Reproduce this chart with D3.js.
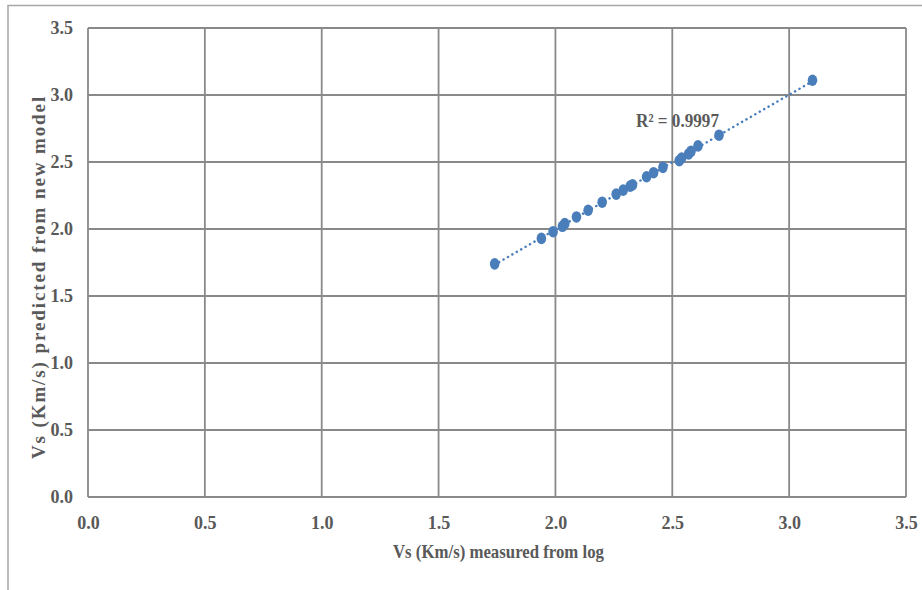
<!DOCTYPE html>
<html>
  <head>
    <meta charset="utf-8">
    <script src="https://d3js.org/d3.v7.min.js"></script>
    <style>
      body { margin: 0; background: #fff; }
      .tick text { font-family: "Liberation Serif", serif; font-weight: bold; font-size: 18px; fill: #595959; }
      .axis-title { font-family: "Liberation Serif", serif; font-weight: bold; font-size: 19px; fill: #595959; }
    </style>
  </head>
  <body>
    <div id="chart"></div>
    <script>
      // measured Vs (x) vs predicted Vs (y), km/s
      var measured  = [1.74, 1.94, 1.99, 2.03, 2.04, 2.09, 2.14, 2.20, 2.26, 2.29, 2.32, 2.33, 2.39, 2.42, 2.46, 2.53, 2.54, 2.57, 2.58, 2.61, 2.70, 3.10];
      var predicted = [1.74, 1.93, 1.98, 2.02, 2.04, 2.09, 2.14, 2.20, 2.26, 2.29, 2.32, 2.33, 2.39, 2.42, 2.46, 2.51, 2.53, 2.56, 2.58, 2.62, 2.70, 3.11];
      var ticks = [0, 0.5, 1.0, 1.5, 2.0, 2.5, 3.0, 3.5];
      var r2Label = "R\u00b2 = 0.9997";

      var width = 922, height = 590;
      var plotL = 88, plotR = 906, plotT = 28, plotB = 497;

      var svg = d3.select("#chart").append("svg")
          .attr("width", width).attr("height", height);

      // outer chart border
      svg.append("path")
         .attr("d", "M8,590 V5.5 H922")
         .attr("fill", "none").attr("stroke", "#a6a6a6").attr("stroke-width", 1.5);

      var x = d3.scaleLinear().domain([0, 3.5]).range([plotL, plotR]);
      var y = d3.scaleLinear().domain([0, 3.5]).range([plotB, plotT]);

      // gridlines
      svg.append("g").selectAll("line").data(ticks).join("line")
         .attr("x1", function(d) { return x(d); }).attr("x2", function(d) { return x(d); })
         .attr("y1", plotT).attr("y2", plotB)
         .attr("stroke", "#898989").attr("stroke-width", 1.8);
      svg.append("g").selectAll("line").data(ticks).join("line")
         .attr("y1", function(d) { return y(d); }).attr("y2", function(d) { return y(d); })
         .attr("x1", plotL).attr("x2", plotR)
         .attr("stroke", "#898989").attr("stroke-width", 1.8);

      // axes (labels only)
      var xAxis = svg.append("g").attr("transform", "translate(0," + plotB + ")")
         .call(d3.axisBottom(x).tickValues(ticks).tickFormat(d3.format(".1f")).tickSize(0).tickPadding(19));
      xAxis.select(".domain").remove();
      var yAxis = svg.append("g").attr("transform", "translate(" + plotL + ",0)")
         .call(d3.axisLeft(y).tickValues(ticks).tickFormat(d3.format(".1f")).tickSize(0).tickPadding(15));
      yAxis.select(".domain").remove();

      svg.append("text").attr("class", "axis-title")
         .attr("x", 393).attr("y", 558)
         .attr("textLength", 211).attr("lengthAdjust", "spacingAndGlyphs")
         .text("Vs (Km/s) measured from log");
      svg.append("text").attr("class", "axis-title")
         .attr("transform", "translate(45,277) rotate(-90)").attr("text-anchor", "middle")
         .style("letter-spacing", "1.9px")
         .text("Vs (Km/s) predicted from new  model");

      // linear trendline (least squares)
      var mx = d3.mean(measured), my = d3.mean(predicted);
      var sxy = d3.sum(measured, function(v, i) { return (v - mx) * (predicted[i] - my); });
      var sxx = d3.sum(measured, function(v) { return (v - mx) * (v - mx); });
      var slope = sxy / sxx, icpt = my - slope * mx;
      var x0 = d3.min(measured), x1 = d3.max(measured);
      svg.append("line")
         .attr("x1", x(x0)).attr("y1", y(icpt + slope * x0))
         .attr("x2", x(x1)).attr("y2", y(icpt + slope * x1))
         .attr("stroke", "#4a7ebb").attr("stroke-width", 2.5)
         .attr("stroke-dasharray", "0.1,5").attr("stroke-linecap", "round");

      // points
      svg.append("g").selectAll("ellipse").data(measured).join("ellipse")
         .attr("cx", function(d) { return x(d); })
         .attr("cy", function(d, i) { return y(predicted[i]); })
         .attr("rx", 4.8).attr("ry", 5.8)
         .attr("fill", "#4a7ebb");

      svg.append("text").attr("class", "axis-title")
         .attr("x", 636).attr("y", 127)
         .attr("textLength", 83).attr("lengthAdjust", "spacingAndGlyphs")
         .text(r2Label);
    </script>
  </body>
</html>
